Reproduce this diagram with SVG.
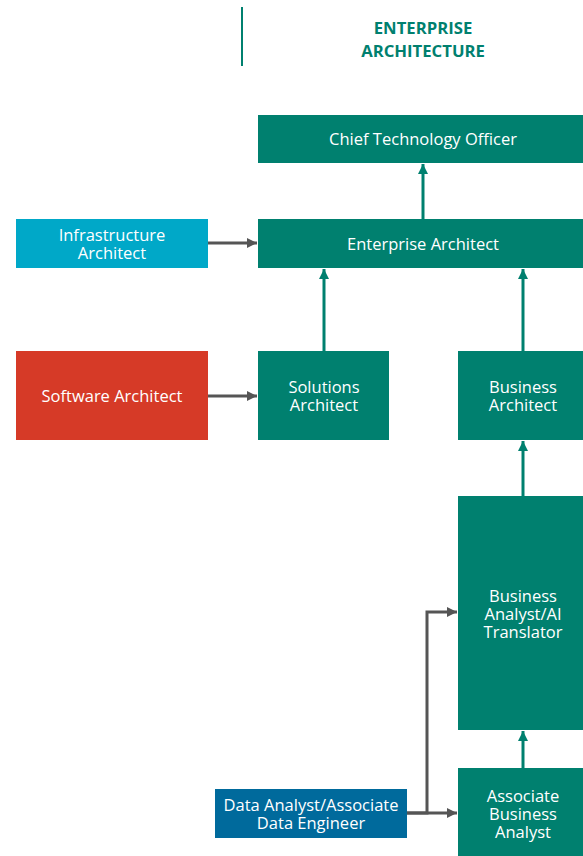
<svg xmlns="http://www.w3.org/2000/svg" width="583" height="856" viewBox="0 0 583 856">
  <defs>
    <marker id="headTeal" viewBox="0 0 10 10" refX="10" refY="5" markerWidth="10" markerHeight="10" markerUnits="userSpaceOnUse" orient="auto">
      <path d="M0,0 L10,5 L0,10 Z" fill="#00806F"/>
    </marker>
    <marker id="headGray" viewBox="0 0 10 10" refX="10" refY="5" markerWidth="10" markerHeight="10" markerUnits="userSpaceOnUse" orient="auto">
      <path d="M0,0 L10,5 L0,10 Z" fill="#555555"/>
    </marker>
  </defs>
  <style>
    text { font-family: "Open Sans", "Liberation Sans", sans-serif; fill: #ffffff; text-anchor: middle; dominant-baseline: central; font-size: 16.5px; }
    .title { fill: #00806F; font-weight: bold; font-size: 16.7px; }
    .teal { fill: #00806F; }
    .cyan { fill: #00A8C8; }
    .red { fill: #D63A27; }
    .blue { fill: #006A9C; }
    .edge-teal { stroke: #00806F; stroke-width: 3; fill: none; marker-end: url(#headTeal); }
    .edge-gray { stroke: #555555; stroke-width: 3; fill: none; marker-end: url(#headGray); }
  </style>
  <rect width="583" height="856" fill="#ffffff"/>

  <!-- header -->
  <g id="header">
    <line x1="242" y1="7" x2="242" y2="66" stroke="#00806F" stroke-width="2"/>
    <text class="title" x="423" y="27">ENTERPRISE</text>
    <text class="title" x="423" y="50">ARCHITECTURE</text>
  </g>

  <!-- connectors -->
  <g id="connectors">
    <line class="edge-teal" x1="423" y1="219" x2="423" y2="164"/>
    <line class="edge-gray" x1="208" y1="243" x2="257" y2="243"/>
    <line class="edge-gray" x1="208" y1="396" x2="257" y2="396"/>
    <line class="edge-teal" x1="324" y1="351" x2="324" y2="269"/>
    <line class="edge-teal" x1="523" y1="351" x2="523" y2="269"/>
    <line class="edge-teal" x1="523" y1="496" x2="523" y2="441"/>
    <line class="edge-teal" x1="523" y1="768" x2="523" y2="731"/>
    <line class="edge-gray" x1="407" y1="813" x2="457" y2="813"/>
    <polyline class="edge-gray" points="407,813 427,813 427,612 457,612"/>
  </g>

  <!-- nodes -->
  <g id="cto">
    <rect class="teal" x="258" y="115" width="330" height="48"/>
    <text x="423" y="138" font-size="17.5">Chief Technology Officer</text>
  </g>
  <g id="enterprise-architect">
    <rect class="teal" x="258" y="219" width="330" height="49"/>
    <text x="423" y="243" font-size="15.8">Enterprise Architect</text>
  </g>
  <g id="infrastructure-architect">
    <rect class="cyan" x="16" y="219" width="192" height="49"/>
    <text x="112" y="234">Infrastructure</text>
    <text x="112" y="252">Architect</text>
  </g>
  <g id="software-architect">
    <rect class="red" x="16" y="351" width="192" height="89"/>
    <text x="112" y="395">Software Architect</text>
  </g>
  <g id="solutions-architect">
    <rect class="teal" x="258" y="351" width="131" height="89"/>
    <text x="324" y="386">Solutions</text>
    <text x="324" y="404">Architect</text>
  </g>
  <g id="business-architect">
    <rect class="teal" x="458" y="351" width="130" height="89"/>
    <text x="523" y="386">Business</text>
    <text x="523" y="404">Architect</text>
  </g>
  <g id="business-analyst-ai-translator">
    <rect class="teal" x="458" y="496" width="130" height="234"/>
    <text x="523" y="595">Business</text>
    <text x="523" y="613">Analyst/AI</text>
    <text x="523" y="631">Translator</text>
  </g>
  <g id="associate-business-analyst">
    <rect class="teal" x="458" y="768" width="130" height="92"/>
    <text x="523" y="795">Associate</text>
    <text x="523" y="813">Business</text>
    <text x="523" y="831">Analyst</text>
  </g>
  <g id="data-analyst">
    <rect class="blue" x="215" y="789" width="192" height="49"/>
    <text x="311" y="804">Data Analyst/Associate</text>
    <text x="311" y="822">Data Engineer</text>
  </g>
</svg>
